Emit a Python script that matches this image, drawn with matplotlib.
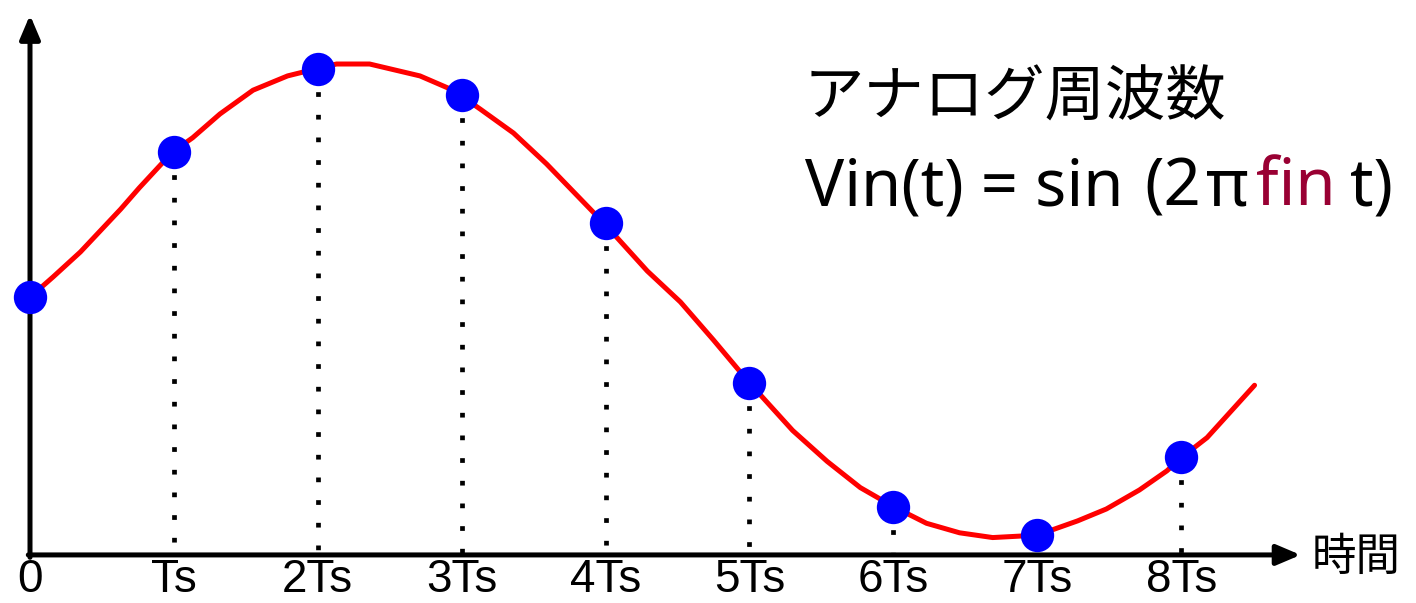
import matplotlib.pyplot as plt

# sampled points (t in units of Ts, value normalized to amplitude)
sample_t = [0, 1, 2, 3, 4, 5, 6, 7, 8]
sample_v = [0.02, 0.63, 0.98, 0.87, 0.33, -0.34, -0.86, -0.98, -0.65]
tick_labels = ["0", "Ts", "2Ts", "3Ts", "4Ts", "5Ts", "6Ts", "7Ts", "8Ts"]

# analog waveform
curve_t = [0.00, 0.16, 0.35, 0.49, 0.63, 0.76, 0.99, 1.13, 1.32, 1.55, 1.79, 1.99,
           2.13, 2.36, 2.57, 2.71, 2.94, 3.13, 3.36, 3.59, 3.75, 3.99, 4.29, 4.52,
           4.75, 5.00, 5.30, 5.54, 5.77, 6.00, 6.23, 6.46, 6.69, 7.00, 7.28, 7.48,
           7.71, 7.90, 8.01, 8.18, 8.36, 8.51]
curve_v = [0.02, 0.105, 0.21, 0.30, 0.39, 0.48, 0.63, 0.69, 0.79, 0.89, 0.95, 0.98,
           1.00, 1.00, 0.97, 0.95, 0.89, 0.81, 0.71, 0.58, 0.48, 0.33, 0.13, 0.00,
           -0.16, -0.34, -0.54, -0.67, -0.78, -0.86, -0.93, -0.97, -0.99, -0.98, -0.92, -0.87,
           -0.79, -0.71, -0.65, -0.57, -0.45, -0.35]

W, H = 1416, 603
fig = plt.figure(figsize=(W / 100, H / 100), dpi=100)
ax = fig.add_axes([0, 0, 1, 1])
ax.set_xlim(-0.2085, 9.632)
ax.set_ylim(-1.265, 1.269)
ax.axis("off")

base = -1.063

# axes with arrows
arrow = dict(arrowstyle="-|>,head_length=0.4,head_width=0.17", lw=3.6,
             color="black", mutation_scale=36, shrinkA=0, shrinkB=0)
ax.annotate("", xy=(8.83, base), xytext=(-0.012, base), arrowprops=arrow)
ax.annotate("", xy=(0, 1.206), xytext=(0, base - 0.01), arrowprops=arrow)

# dotted drop lines
for t, v in zip(sample_t[1:], sample_v[1:]):
    ax.plot([t, t], [v, base], color="black", lw=3.4,
            linestyle=(0, (1, 3.8)), dash_capstyle="butt", zorder=2)

ax.plot(curve_t, curve_v, color="#ff0000", lw=3.6, solid_joinstyle="round",
        solid_capstyle="round", zorder=3)
ax.plot(sample_t, sample_v, "o", color="#0000ff", ms=24, mec="none", zorder=4)

narrow = ["Liberation Sans Narrow", "Liberation Sans", "DejaVu Sans"]
for t, lab in zip(sample_t, tick_labels):
    ax.text(t, -1.22, lab, ha="center", va="baseline", fontsize=33, family=narrow)

jp = ["Noto Sans CJK JP", "DejaVu Sans"]
fig.text(1312 / W, 1 - 557 / H, "時間", ha="left", va="center", fontsize=32, family=jp)
fig.text(804 / W, 1 - 98 / H, "アナログ周波数", ha="left", va="center", fontsize=43.5, family=jp)

# formula, with "fin" in dark red
sans = ["Noto Sans", "DejaVu Sans"]
for x, part, col in [(805, "Vin(t) = sin", "black"), (1144, "(2", "black"),
                     (1206, "π", "black"), (1256, "fin", "#990033"), (1350, "t)", "black")]:
    fig.text(x / W, 1 - 205 / H, part, ha="left", va="baseline",
             fontsize=47, color=col, family=sans)

fig.savefig("out.png", dpi=100)
